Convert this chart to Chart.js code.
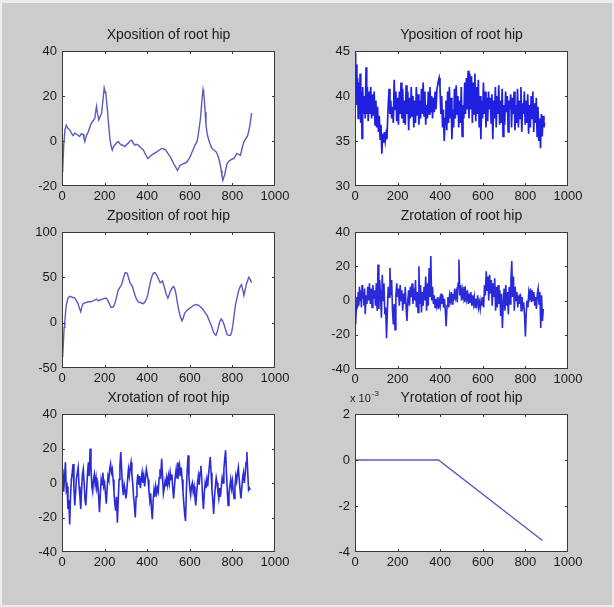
<!DOCTYPE html>
<html>
<head>
<meta charset="utf-8">
<script src="https://cdn.jsdelivr.net/npm/chart.js@4.4.1/dist/chart.umd.min.js"></script>
<style>
  html, body { margin: 0; padding: 0; }
  body { width: 614px; height: 607px; background: #ececec; position: relative; overflow: hidden; }
  #fig { position: absolute; left: 2px; top: 3px; width: 610px; height: 602px; background: #cccccc; }
  canvas { position: absolute; }
</style>
</head>
<body>
<div id="fig"></div>
<script>
// ---------- data (x = frame index, y = value) ----------
const xTicks = [0, 200, 400, 600, 800, 1000];

const xPosTitle = "Xposition of root hip";
const xPosPts = [[0,-5],[3,-14],[8,-2],[14,5],[20,7],[28,5.5],[36,5],[44,3.5],[52,2.4],[60,3.5],[68,3],[76,2.5],[83,2],[90,3.2],[99,3],[103,1],[107,-0.3],[115,2.5],[123,4],[130,6],[138,8],[146,9],[154,10],[158,13],[162,15.4],[167,12],[173,9.4],[180,11],[186,12.4],[192,18],[198,23.6],[202,22],[206,21],[210,17],[214,13],[220,6],[225,1],[230,-2],[236,-4],[242,-2.5],[248,-1.8],[256,-0.8],[264,-0.3],[272,-1.2],[280,-1.8],[288,-2],[296,-2.5],[304,-1.5],[311,-1],[319,0],[327,0.4],[335,-1],[343,-1.8],[350,-1.5],[358,-1.8],[370,-3],[382,-4],[392,-6],[403,-7.8],[412,-7],[421,-6.3],[433,-5.5],[445,-4.8],[457,-4],[469,-3.3],[478,-3.5],[487,-4],[497,-5.5],[508,-7],[516,-8.5],[524,-10],[533,-11.5],[542,-13],[548,-12],[555,-10.7],[563,-10.5],[571,-10],[579,-9.8],[587,-9.3],[595,-8],[602,-7],[610,-5],[618,-3.3],[626,-1.5],[634,-0.3],[640,3],[645,6.4],[650,10],[654,14.6],[658,19],[662,22.8],[665,21],[668,19],[672,13],[676,7.2],[682,3],[689,0.4],[696,-1.5],[704,-3.3],[713,-4],[723,-4.8],[730,-6],[736,-7.8],[742,-10],[747,-13],[751,-15.5],[755,-17.5],[760,-16],[764,-15],[770,-12],[775,-10],[783,-9],[791,-8.5],[799,-8],[807,-7.8],[815,-6.5],[822,-5.5],[830,-6],[838,-6.3],[846,-3],[854,-0.3],[862,1],[870,2],[876,4],[881,6.4],[886,9.5],[890,12.4]];

const yPosTitle = "Yposition of root hip";
const yPosPts = [[0,44.8],[3,41.5],[6,43.5],[9,39],[12,42],[15,37.5],[18,41.5],[21,38],[24,42.5],[27,37],[30,40.5],[33,35.3],[36,41],[40,38],[44,40],[48,37.5],[52,43.2],[55,38],[58,41],[62,37.2],[66,40.5],[70,38],[74,41],[78,37.5],[82,40.2],[86,37.8],[90,40.5],[94,36.8],[98,39.5],[102,36.5],[106,38.8],[110,36],[114,37.8],[118,35.2],[122,36.8],[126,33.6],[130,35.8],[134,34.8],[138,36],[142,35],[146,35.8],[150,35.2],[155,38.5],[160,40.8],[164,38],[168,39.5],[172,37.5],[176,38.8],[180,37],[184,41.8],[188,38.5],[192,40.5],[196,37.2],[200,39.8],[204,36.8],[208,40.5],[212,38],[216,41.5],[220,37.5],[224,40.8],[228,37],[232,39.5],[236,36.8],[240,41.2],[244,38],[248,40.5],[252,36.2],[256,39.8],[260,37.5],[264,41],[268,37.8],[272,40],[276,36.5],[280,39.5],[284,37],[288,41],[292,37.8],[296,40.2],[300,36.8],[304,39.5],[308,37.5],[312,40.8],[316,38],[320,41.5],[324,37.8],[328,40.5],[332,36.8],[336,39],[340,37.5],[344,40.5],[348,38],[352,41],[356,38.2],[360,40],[364,37.5],[368,39.8],[372,38.2],[376,40.5],[380,38.5],[385,40.8],[390,41.5],[395,42],[399,41],[403,38],[407,40],[411,36.5],[415,38.5],[419,35],[423,37.5],[427,39.5],[431,36.2],[435,40.5],[439,37],[443,41],[447,37.5],[451,39.8],[455,35.2],[459,38.5],[463,36.5],[467,40.8],[471,37.5],[475,41.2],[479,38],[483,40],[487,36.5],[491,39.5],[495,37],[499,41],[503,35.5],[507,39],[511,37.5],[515,41.5],[519,38],[523,42],[527,38.5],[531,42.8],[535,37.5],[539,42.5],[543,38.5],[547,42.2],[551,37],[555,41.5],[559,38],[563,42.5],[567,37.2],[571,41],[575,38],[579,41.8],[583,36.5],[587,40],[591,35.2],[595,39.5],[599,37.5],[603,41.5],[607,38],[611,40.5],[615,36.5],[619,39.8],[623,37.2],[627,40.5],[631,38.5],[635,39.8],[639,37],[643,40.2],[647,35.2],[651,39.5],[655,37.5],[659,41],[663,36.5],[667,40],[671,38],[675,41.2],[679,36.8],[683,39.5],[687,37],[691,40.8],[695,35.5],[699,39],[703,36.8],[707,40.5],[711,38.2],[715,40],[719,36],[723,39.5],[727,38.5],[731,40.2],[735,36.5],[739,39.8],[743,38],[747,40.5],[751,36.2],[755,39],[759,37],[763,40.8],[767,36.5],[771,39.5],[775,37.5],[779,41],[783,36],[787,39.2],[791,38],[795,40.5],[799,36.8],[803,39.5],[807,37],[811,40.2],[815,35.8],[819,39],[823,36.5],[827,40],[831,37.5],[835,40.5],[839,36],[843,39.2],[847,37],[851,39.8],[855,35.5],[859,38.8],[863,35],[867,37.5],[871,34.2],[875,38],[879,35.5],[883,37.8],[887,36.5],[890,37]];

const zPosTitle = "Zposition of root hip";
const zPosPts = [[0,-20],[3,-38],[7,-20],[10,-5],[13,0],[17,12],[20,19],[28,27],[36,29],[48,28],[60,27],[68,24],[75,21],[82,16],[88,12],[94,18],[99,21],[110,22],[123,23],[135,23],[146,24],[155,25],[162,26],[170,24],[178,25],[190,26],[201,27],[208,27],[214,25],[222,21],[230,17],[238,17],[245,19],[255,27],[264,36],[272,39],[280,42],[288,49],[296,55],[302,55],[307,54],[313,49],[319,44],[325,42],[330,40],[337,35],[343,30],[350,26],[358,23],[370,22],[382,21],[390,23],[398,27],[404,32],[409,38],[416,46],[425,53],[431,55],[437,55],[443,53],[448,51],[455,47],[461,44],[467,45],[472,46],[478,41],[484,36],[490,31],[497,27],[502,30],[508,34],[516,38],[524,40],[530,37],[535,32],[541,23],[547,15],[555,7],[563,2],[569,5],[575,10],[584,13],[594,15],[606,17],[618,19],[630,20],[642,19],[652,17],[660,15],[670,12],[681,8],[690,3],[697,-1],[705,-6],[712,-11],[718,-13],[723,-14],[730,-9],[736,-3],[742,2],[748,4],[754,2],[759,-1],[767,-7],[775,-13],[783,-14],[791,-14],[797,-10],[802,-3],[808,8],[814,19],[822,28],[830,36],[837,40],[843,42],[849,36],[854,30],[860,36],[865,42],[871,46],[877,50],[883,48],[890,44]];

const zRotTitle = "Zrotation of root hip";
const zRotPts = [[0,-2],[3,-14],[6,-5],[9,2],[12,-4],[15,5],[18,-3],[21,8],[24,0],[27,6],[30,-4],[33,9],[36,1],[39,5],[42,-3],[45,7],[48,-8],[52,3],[56,-2],[60,8],[64,0],[68,10],[72,-2],[76,7],[80,-4],[84,9],[88,1],[92,6],[96,-3],[100,10],[104,-6],[108,21],[112,-5],[116,12],[120,2],[124,-10],[128,15],[132,0],[136,10],[140,-8],[144,-4],[148,-22],[152,-6],[156,8],[160,2],[164,19],[168,3],[172,12],[176,-6],[180,-14],[184,-2],[188,-17],[192,3],[196,10],[200,2],[204,7],[208,-3],[212,9],[216,0],[220,6],[224,-6],[228,4],[232,-2],[236,8],[240,-4],[244,-12],[248,0],[252,6],[256,-3],[260,8],[264,2],[268,10],[272,-2],[276,7],[280,0],[284,12],[288,-4],[292,5],[296,-7],[300,20],[304,-2],[308,9],[312,-7],[316,5],[320,-3],[324,8],[328,0],[332,14],[336,-6],[340,10],[344,-3],[348,19],[352,2],[356,26],[360,0],[364,8],[368,-2],[372,3],[376,-4],[380,1],[384,-3],[388,2],[392,-5],[396,0],[400,-3],[404,4],[408,-2],[412,3],[416,-4],[420,1],[424,-6],[428,-15],[432,-3],[436,2],[440,-4],[444,3],[448,0],[452,5],[456,-2],[460,4],[464,0],[468,7],[472,2],[476,5],[480,-1],[484,10],[488,24],[492,3],[496,9],[500,0],[504,6],[508,2],[512,8],[516,-1],[520,5],[524,1],[528,6],[532,-2],[536,4],[540,-1],[544,5],[548,-3],[552,3],[556,-2],[560,2],[564,-4],[568,1],[572,-2],[576,3],[580,-4],[584,-1],[588,-5],[592,0],[596,-3],[600,2],[604,-4],[608,9],[612,3],[616,17],[620,6],[624,14],[628,0],[632,15],[636,4],[640,12],[644,-3],[648,10],[652,2],[656,13],[660,-6],[664,8],[668,-4],[672,9],[676,-2],[680,6],[684,-9],[688,4],[692,-16],[696,-2],[700,7],[704,-6],[708,9],[712,-3],[716,5],[720,-8],[724,8],[728,-2],[732,12],[736,23],[740,2],[744,14],[748,-6],[752,8],[756,0],[760,5],[764,-4],[768,3],[772,-2],[776,4],[780,-6],[784,2],[788,-5],[792,-1],[796,-9],[800,-21],[804,-7],[808,0],[812,-4],[816,5],[820,2],[824,7],[828,-1],[832,6],[836,0],[840,5],[844,-3],[848,2],[852,-5],[856,4],[860,7],[864,-2],[868,5],[872,-16],[876,3],[880,-12],[884,-5]];

const xRotTitle = "Xrotation of root hip";
const xRotPts = [[0,0],[4,8],[8,-5],[12,3],[16,12],[20,-4],[24,-2],[28,-15],[32,-10],[36,-24],[40,-8],[44,2],[48,6],[52,11],[56,-3],[60,-13],[64,-5],[68,3],[72,6],[76,9],[80,-2],[84,-8],[88,-15],[92,-4],[96,5],[100,8],[104,0],[108,-10],[112,-13],[116,-3],[120,6],[124,12],[128,4],[132,20],[136,10],[140,-2],[144,-5],[148,2],[152,5],[156,-1],[160,3],[164,-3],[168,-1],[172,-8],[176,-17],[180,-6],[184,2],[188,-1],[192,6],[196,-2],[200,0],[204,-6],[208,-12],[212,-3],[216,4],[220,2],[224,8],[228,11],[232,6],[236,8],[240,2],[244,-5],[248,-12],[252,-16],[256,-8],[260,-23],[264,-10],[268,2],[272,10],[276,18],[280,8],[284,-2],[288,-7],[292,-1],[296,-4],[300,-9],[304,-5],[308,2],[312,8],[316,4],[320,9],[324,12],[328,5],[332,0],[336,-8],[340,-13],[344,-20],[348,-8],[352,0],[356,5],[360,-1],[364,4],[368,-3],[372,2],[376,6],[380,0],[384,4],[388,-2],[392,3],[396,8],[400,5],[404,2],[408,-4],[412,-10],[416,-6],[420,-15],[424,-21],[428,-10],[432,-4],[436,-8],[440,-2],[444,-6],[448,-3],[452,-5],[456,3],[460,8],[464,5],[468,14],[472,4],[476,-6],[480,-3],[484,1],[488,-2],[492,3],[496,-1],[500,4],[504,0],[508,6],[512,2],[516,5],[520,-3],[524,-9],[528,-2],[532,4],[536,8],[540,3],[544,12],[548,6],[552,10],[556,4],[560,9],[564,2],[568,-5],[572,-12],[576,-18],[580,-22],[584,-4],[588,8],[592,16],[596,4],[600,-3],[604,-7],[608,-2],[612,0],[616,-5],[620,-2],[624,-8],[628,-13],[632,-6],[636,0],[640,4],[644,-1],[648,6],[652,10],[656,3],[660,-8],[664,-15],[668,-6],[672,0],[676,-3],[680,2],[684,-2],[688,5],[692,10],[696,15],[700,6],[704,-4],[708,-10],[712,-18],[716,-8],[720,-2],[724,3],[728,0],[732,-5],[736,-9],[740,-3],[744,-8],[748,-2],[752,3],[756,0],[760,8],[764,14],[768,19],[772,6],[776,-4],[780,-13],[784,-6],[788,-2],[792,2],[796,-3],[800,1],[804,-5],[808,-9],[812,-2],[816,4],[820,1],[824,6],[828,9],[832,2],[836,-4],[840,-9],[844,-3],[848,3],[852,6],[856,0],[860,5],[864,12],[868,18],[872,6],[876,-4],[880,-3],[884,-4]];

const yRotTitle = "Yrotation of root hip";
const yRotExpBase = "x 10";
const yRotExpPow = "-3";
// values in units of 10^-3
const yRotPts = [[0,0],[392,0],[880,-3.5]];

// ---------- rendering ----------
const FONT = "'Liberation Sans', Arial, Helvetica, sans-serif";
const fig = document.getElementById('fig');
const OFF_X = 2, OFF_Y = 3; // fig offset in page

const boxPlugin = {
  id: 'matlabBox',
  beforeDatasetsDraw(chart) {
    const a = chart.chartArea, ctx = chart.ctx;
    ctx.save();
    ctx.fillStyle = '#ffffff';
    ctx.fillRect(a.left, a.top, a.right - a.left, a.bottom - a.top);
    ctx.restore();
  },
  afterDraw(chart) {
    const a = chart.chartArea, ctx = chart.ctx;
    const xs = chart.scales.x, ys = chart.scales.y;
    const opts = chart.options.plugins.matlabBox || {};
    ctx.save();
    ctx.strokeStyle = '#3a3a3a';
    ctx.lineWidth = 1;
    ctx.beginPath();
    xs.ticks.forEach(t => {
      if (t.value <= xs.min || t.value >= xs.max) return;
      const p = Math.round(xs.getPixelForValue(t.value)) + 0.5;
      ctx.moveTo(p, a.bottom); ctx.lineTo(p, a.bottom - 3);
      ctx.moveTo(p, a.top); ctx.lineTo(p, a.top + 3);
    });
    ys.ticks.forEach(t => {
      if (t.value <= ys.min || t.value >= ys.max) return;
      const p = Math.round(ys.getPixelForValue(t.value)) + 0.5;
      ctx.moveTo(a.left, p); ctx.lineTo(a.left + 3, p);
      ctx.moveTo(a.right, p); ctx.lineTo(a.right - 3, p);
    });
    ctx.stroke();
    ctx.strokeRect(Math.round(a.left) + 0.5, Math.round(a.top) + 0.5,
                   Math.round(a.right - a.left) - 1, Math.round(a.bottom - a.top) - 1);
    // title, centred over the axes box
    if (opts.title) {
      ctx.fillStyle = '#1a1a1a';
      ctx.font = '14px ' + FONT;
      ctx.textAlign = 'center';
      ctx.textBaseline = 'middle';
      ctx.fillText(opts.title, (a.left + a.right) / 2, a.top - 16);
    }
    const ex = opts.exponent;
    if (ex) {
      ctx.fillStyle = '#222';
      ctx.textBaseline = 'alphabetic';
      ctx.textAlign = 'left';
      ctx.font = '11px ' + FONT;
      ctx.fillText(ex.base, a.left - 5, a.top - 12);
      const bw = ctx.measureText(ex.base).width;
      ctx.font = '8px ' + FONT;
      ctx.fillText(ex.pow, a.left - 5 + bw + 1, a.top - 18);
    }
    ctx.restore();
  }
};

const LEFT_W = 45, TOP_H = 30, BOTTOM_H = 25, RIGHT_W = 25;

function makeChart(L, T, R, B, title, pts, yMin, yMax, yStep, color, lw, extra) {
  const c = document.createElement('canvas');
  const w = (R - L) + LEFT_W + RIGHT_W;
  const h = (B - T) + TOP_H + BOTTOM_H;
  c.width = w; c.height = h;
  c.style.left = (L - LEFT_W - OFF_X) + 'px';
  c.style.top = (T - TOP_H - OFF_Y) + 'px';
  c.style.width = w + 'px'; c.style.height = h + 'px';
  fig.appendChild(c);
  return new Chart(c, {
    type: 'line',
    data: {
      datasets: [{
        data: pts.map(p => ({ x: p[0], y: p[1] })),
        borderColor: color,
        borderWidth: lw,
        pointRadius: 0,
        tension: 0,
        fill: false
      }]
    },
    options: {
      responsive: false,
      animation: false,
      events: [],
      layout: { padding: { left: 0, top: TOP_H, right: RIGHT_W, bottom: 0 } },
      plugins: {
        legend: { display: false },
        tooltip: { enabled: false },
        title: { display: false },
        matlabBox: Object.assign({ title: title }, extra || {})
      },
      scales: {
        x: {
          type: 'linear', min: 0, max: 1000,
          afterBuildTicks: s => { s.ticks = xTicks.map(v => ({ value: v })); },
          ticks: { color: '#1a1a1a', font: { family: FONT, size: 13 }, padding: 3, maxRotation: 0, autoSkip: false,
                   callback: v => String(v) },
          grid: { display: false, drawTicks: false },
          border: { display: false },
          afterFit: s => { s.height = BOTTOM_H; }
        },
        y: {
          type: 'linear', min: yMin, max: yMax,
          ticks: { stepSize: yStep, color: '#1a1a1a', font: { family: FONT, size: 13 }, padding: 5,
                   callback: v => String(v) },
          grid: { display: false, drawTicks: false },
          border: { display: false },
          afterFit: s => { s.width = LEFT_W; }
        }
      }
    },
    plugins: [boxPlugin]
  });
}

makeChart(62, 51, 275, 186, xPosTitle, xPosPts, -20, 40, 20, '#5a5ac0', 1.4);
makeChart(355, 51, 568, 186, yPosTitle, yPosPts, 30, 45, 5, '#2020e0', 1.7);
makeChart(62, 232, 275, 368, zPosTitle, zPosPts, -50, 100, 50, '#5a5ac0', 1.4);
makeChart(355, 232, 568, 369, zRotTitle, zRotPts, -40, 40, 20, '#2a2ad8', 1.6);
makeChart(62, 414, 275, 552, xRotTitle, xRotPts, -40, 40, 20, '#2a2ad8', 1.6);
makeChart(355, 414, 568, 552, yRotTitle, yRotPts, -4, 2, 2, '#5a5ac0', 1.4,
          { exponent: { base: yRotExpBase, pow: yRotExpPow } });
</script>
</body>
</html>
